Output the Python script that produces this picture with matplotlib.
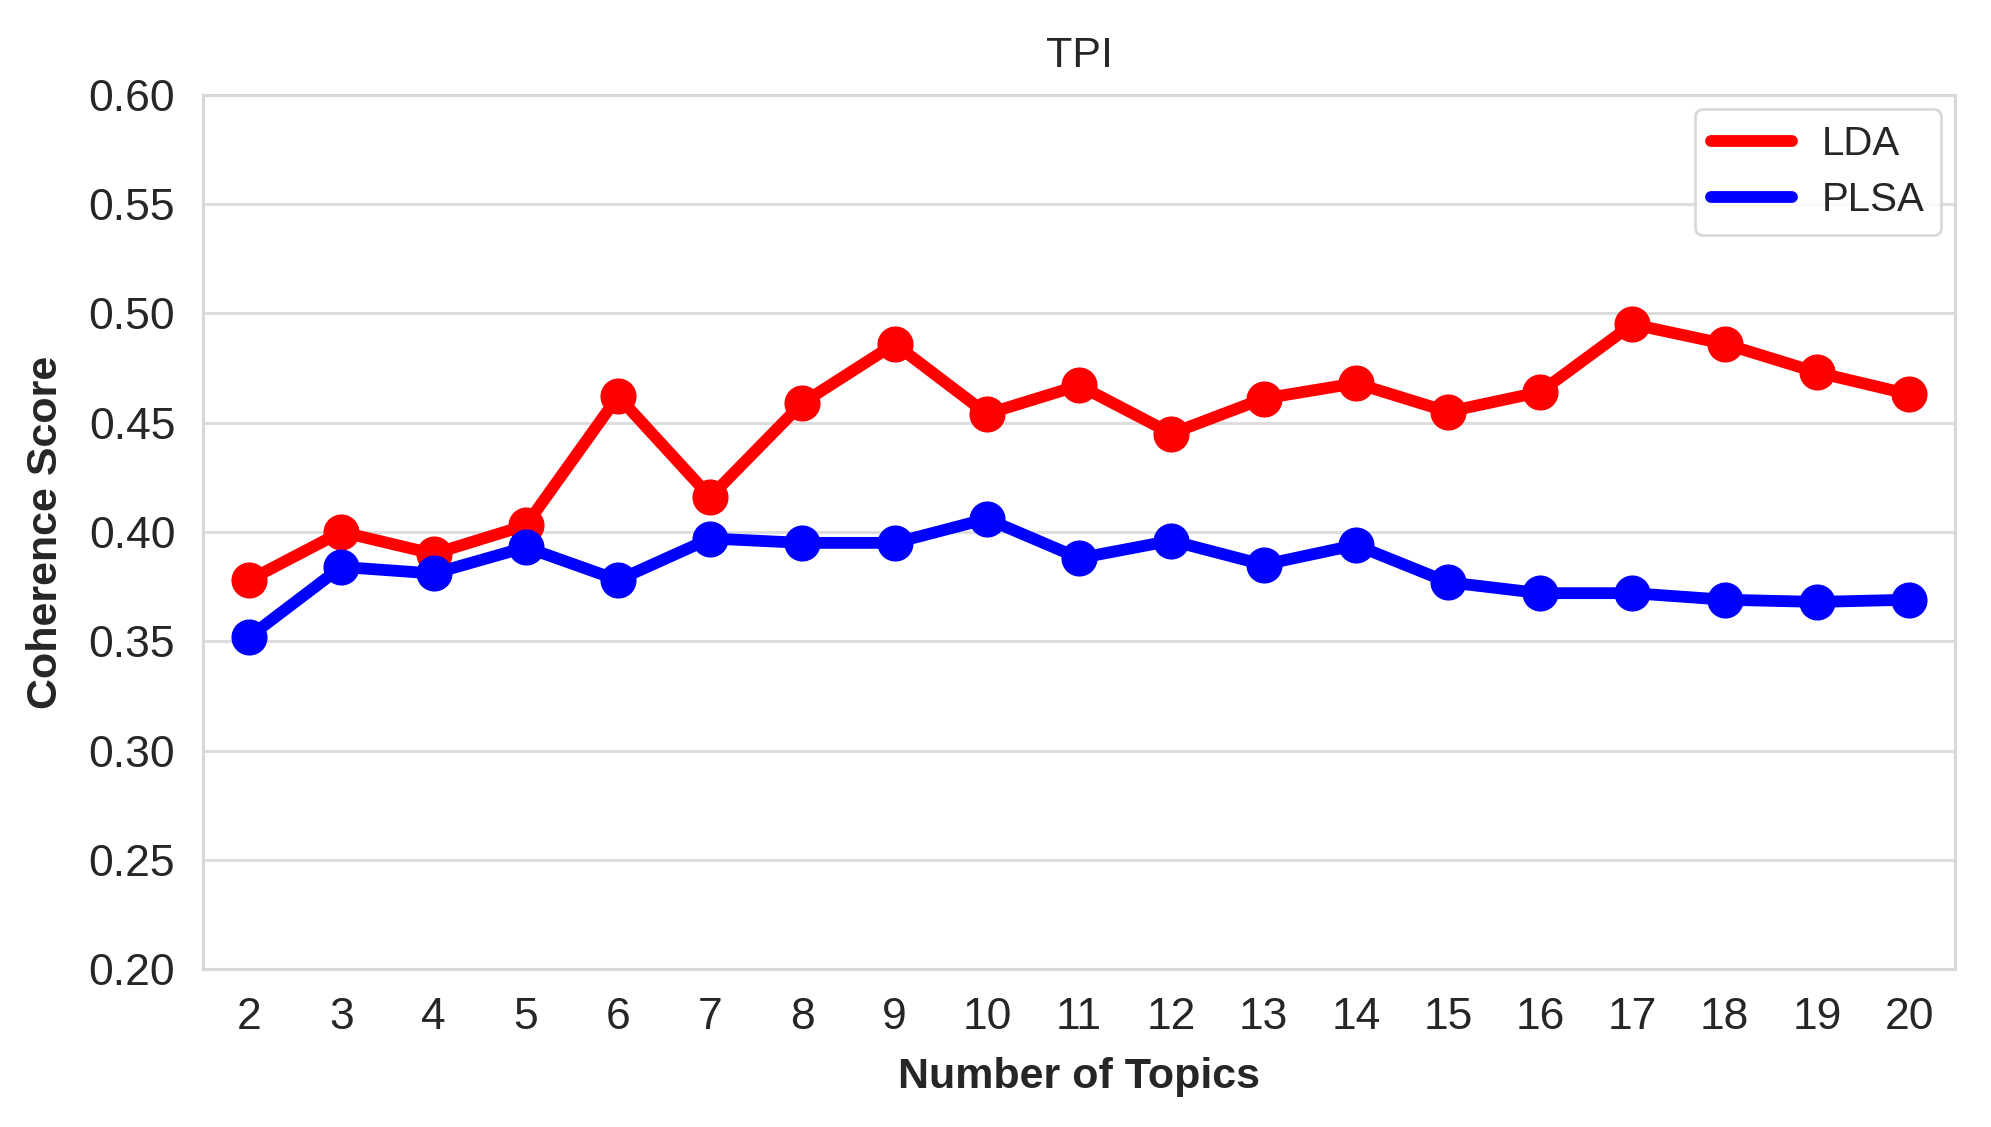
import matplotlib
matplotlib.use('Agg')
import matplotlib.pyplot as plt
from matplotlib.lines import Line2D

plt.rcParams['font.family'] = ['Liberation Sans', 'DejaVu Sans']

topics = list(range(2, 21))
lda = [0.378, 0.400, 0.390, 0.403, 0.462, 0.416, 0.459, 0.486, 0.454, 0.467,
       0.445, 0.461, 0.468, 0.455, 0.464, 0.495, 0.486, 0.473, 0.463]
plsa = [0.352, 0.384, 0.381, 0.393, 0.378, 0.397, 0.395, 0.395, 0.406, 0.388,
        0.396, 0.385, 0.394, 0.377, 0.372, 0.372, 0.369, 0.368, 0.369]

fig = plt.figure(figsize=(19.91, 11.27), dpi=100)
ax = fig.add_axes([0.102, 0.140, 0.880, 0.776])

ax.plot(topics, lda, color='#ff0000', lw=8.5, marker='o', ms=25, zorder=3)
ax.plot(topics, plsa, color='#0000ff', lw=8.5, marker='o', ms=25, zorder=3)

ax.set_xlim(1.5, 20.5)
ax.set_ylim(0.20, 0.60)
ax.set_xticks(topics)
ax.set_yticks([0.20, 0.25, 0.30, 0.35, 0.40, 0.45, 0.50, 0.55, 0.60])
ax.set_yticklabels(['%.2f' % v for v in ax.get_yticks()])
ax.tick_params(length=0, labelsize=32, pad=20, labelcolor='#262626')

ax.grid(axis='y', color='#dddddd', lw=2.2)
ax.set_axisbelow(True)
for s in ax.spines.values():
    s.set_color('#d8d8d8')
    s.set_linewidth(2.2)

ax.set_title('TPI', fontsize=31, pad=20, color='#262626')
ax.set_xlabel('Number of Topics', fontsize=31, fontweight='bold', labelpad=14, color='#262626')
ax.set_ylabel('Coherence Score', fontsize=31, fontweight='bold', labelpad=16, color='#262626')

handles = [Line2D([0], [0], color='#ff0000', lw=8.5, solid_capstyle='round'),
           Line2D([0], [0], color='#0000ff', lw=8.5, solid_capstyle='round')]
leg = ax.legend(handles, ['LDA', 'PLSA'], loc='upper right', fontsize=29,
                frameon=True, fancybox=True, handlelength=2.0,
                handletextpad=0.75, borderaxespad=0.35, labelspacing=0.45)
leg.get_frame().set_edgecolor('#d0d0d0')
leg.get_frame().set_linewidth(2)
for t in leg.get_texts():
    t.set_color('#262626')

fig.savefig('out.png', dpi=100, facecolor='white')
